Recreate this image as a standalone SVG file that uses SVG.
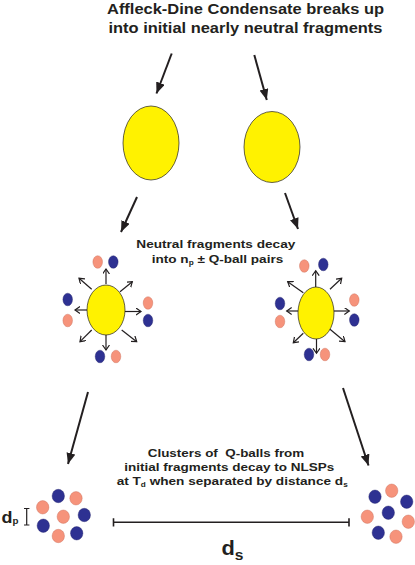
<svg xmlns="http://www.w3.org/2000/svg" width="415" height="565" viewBox="0 0 415 565">
<style>
text{font-family:"Liberation Sans",Arial,sans-serif;font-weight:bold;fill:#231f20;}
.big{fill:#fff200;stroke:#231f20;stroke-width:0.7;}
.n{fill:#2e3192;stroke:#23246a;stroke-width:0.4;}
.s{fill:#f6937b;stroke:#c86a55;stroke-width:0.4;}
.ba{stroke:#231f20;stroke-width:2;fill:none;marker-end:url(#head);}
.sa{stroke:#231f20;stroke-width:1.2;fill:none;marker-end:url(#chev);}
</style>
<defs>
<marker id="head" markerUnits="userSpaceOnUse" markerWidth="12" markerHeight="10" refX="11" refY="4.5" orient="auto">
<path d="M0,0 L11,4.5 L0,9 z" fill="#231f20"/>
</marker>
<marker id="chev" markerUnits="userSpaceOnUse" markerWidth="8" markerHeight="8" refX="5" refY="3.5" orient="auto">
<path d="M0,0 L5,3.5 L0,7" fill="none" stroke="#231f20" stroke-width="1.2"/>
</marker>
</defs>
<rect width="415" height="565" fill="#ffffff"/>

<g id="title">
<text x="245.5" y="14" font-size="15" text-anchor="middle" textLength="277" lengthAdjust="spacingAndGlyphs">Affleck-Dine Condensate breaks up</text>
<text x="245.5" y="33" font-size="15" text-anchor="middle" textLength="274" lengthAdjust="spacingAndGlyphs">into initial nearly neutral fragments</text>
</g>

<g id="fragment-left"><ellipse class="big" cx="151" cy="143" rx="28" ry="37"/></g>
<g id="fragment-right"><ellipse class="big" cx="272" cy="147" rx="28" ry="35.5"/></g>

<g id="decay-label">
<text x="215.8" y="248" font-size="11.6" text-anchor="middle" textLength="159" lengthAdjust="spacingAndGlyphs">Neutral fragments decay</text>
<text x="217.5" y="263" font-size="11.6" text-anchor="middle" textLength="131.5" lengthAdjust="spacingAndGlyphs">into n<tspan font-size="7" dy="2">p</tspan><tspan dy="-2"> ± Q-ball pairs</tspan></text>
</g>

<g id="decay-left">
<ellipse class="big" cx="106" cy="310" rx="19" ry="25"/>
<ellipse class="s" cx="97.7" cy="262" rx="4.8" ry="6.3"/>
<ellipse class="n" cx="113.3" cy="262" rx="4.8" ry="6.3"/>
<ellipse class="n" cx="67.7" cy="299.5" rx="4.8" ry="6.3"/>
<ellipse class="s" cx="67.7" cy="320.5" rx="4.8" ry="6.3"/>
<ellipse class="s" cx="148" cy="303" rx="4.8" ry="6.3"/>
<ellipse class="n" cx="148" cy="320.5" rx="4.8" ry="6.3"/>
<ellipse class="n" cx="100" cy="356.5" rx="4.8" ry="6.3"/>
<ellipse class="s" cx="116" cy="356.5" rx="4.8" ry="6.3"/>
</g>

<g id="decay-right">
<ellipse class="big" cx="316" cy="313" rx="18" ry="26"/>
<ellipse class="s" cx="304.3" cy="266" rx="4.8" ry="6.3"/>
<ellipse class="n" cx="323.3" cy="264.5" rx="4.8" ry="6.3"/>
<ellipse class="n" cx="280" cy="303.5" rx="4.8" ry="6.3"/>
<ellipse class="s" cx="280" cy="321.5" rx="4.8" ry="6.3"/>
<ellipse class="s" cx="354.3" cy="300" rx="4.8" ry="6.3"/>
<ellipse class="n" cx="354.3" cy="320" rx="4.8" ry="6.3"/>
<ellipse class="n" cx="309" cy="354.5" rx="4.8" ry="6.3"/>
<ellipse class="s" cx="325" cy="354.5" rx="4.8" ry="6.3"/>
</g>

<g id="connectors">
<line class="ba" x1="171.7" y1="53.5" x2="156.5" y2="93.5"/>
<line class="ba" x1="254.3" y1="55" x2="266.8" y2="100"/>
<line class="ba" x1="137" y1="197" x2="121" y2="232"/>
<line class="ba" x1="285" y1="193" x2="298" y2="229"/>
<line class="ba" x1="88" y1="392" x2="68" y2="464"/>
<line class="ba" x1="343" y1="388" x2="368.5" y2="465.5"/>
<line class="sa" x1="106" y1="284" x2="106" y2="269"/>
<line class="sa" x1="87" y1="310" x2="75" y2="310"/>
<line class="sa" x1="125" y1="311.5" x2="141" y2="311.5"/>
<line class="sa" x1="106" y1="335" x2="106" y2="350"/>
<line class="sa" x1="91.7" y1="289.3" x2="79" y2="278.3"/>
<line class="sa" x1="120" y1="291.7" x2="132.3" y2="281.7"/>
<line class="sa" x1="91.7" y1="330" x2="80" y2="341.7"/>
<line class="sa" x1="121.7" y1="330" x2="136.7" y2="341.7"/>
<line class="sa" x1="315.7" y1="287" x2="315.7" y2="270.7"/>
<line class="sa" x1="298" y1="311" x2="286.7" y2="311"/>
<line class="sa" x1="334" y1="311" x2="349.3" y2="311"/>
<line class="sa" x1="316.5" y1="339" x2="316.5" y2="353.3"/>
<line class="sa" x1="303.3" y1="292.7" x2="287.7" y2="281.7"/>
<line class="sa" x1="330" y1="289.3" x2="341.7" y2="278.3"/>
<line class="sa" x1="303.3" y1="333.3" x2="293.3" y2="342.7"/>
<line class="sa" x1="330" y1="329.3" x2="345" y2="341.7"/>
</g>

<g id="cluster-label">
<text x="226" y="457" font-size="11.7" text-anchor="middle" textLength="156.5" lengthAdjust="spacingAndGlyphs" xml:space="preserve">Clusters of  Q-balls from</text>
<text x="229.2" y="471" font-size="11.7" text-anchor="middle" textLength="210" lengthAdjust="spacingAndGlyphs">initial fragments decay to NLSPs</text>
<text x="232.2" y="485" font-size="11.7" text-anchor="middle" textLength="231" lengthAdjust="spacingAndGlyphs">at T<tspan font-size="7" dy="2">d</tspan><tspan dy="-2"> when separated by distance d</tspan><tspan font-size="7" dy="2">s</tspan></text>
</g>

<g id="cluster-left">
<ellipse class="n" cx="58.3" cy="496" rx="6.2" ry="6.7"/>
<ellipse class="s" cx="76" cy="498.3" rx="6.2" ry="6.7"/>
<ellipse class="s" cx="42.7" cy="507.3" rx="6.2" ry="6.7"/>
<ellipse class="s" cx="63.3" cy="516.7" rx="6.2" ry="6.7"/>
<ellipse class="n" cx="84.3" cy="515" rx="6.2" ry="6.7"/>
<ellipse class="n" cx="43.3" cy="525.7" rx="6.2" ry="6.7"/>
<ellipse class="s" cx="58.3" cy="536" rx="6.2" ry="6.7"/>
<ellipse class="n" cx="76.7" cy="533.3" rx="6.2" ry="6.7"/>
</g>

<g id="cluster-right">
<ellipse class="n" cx="375" cy="496.7" rx="6.2" ry="6.7"/>
<ellipse class="s" cx="391.7" cy="490.7" rx="6.2" ry="6.7"/>
<ellipse class="n" cx="406.7" cy="501.7" rx="6.2" ry="6.7"/>
<ellipse class="s" cx="367.3" cy="516.7" rx="6.2" ry="6.7"/>
<ellipse class="n" cx="388.3" cy="512.7" rx="6.2" ry="6.7"/>
<ellipse class="s" cx="408.3" cy="521.7" rx="6.2" ry="6.7"/>
<ellipse class="n" cx="378.3" cy="532.7" rx="6.2" ry="6.7"/>
<ellipse class="s" cx="396" cy="536.7" rx="6.2" ry="6.7"/>
</g>

<g id="dp-marker">
<path d="M26.7,508.5 V525 M24,508.5 H29.4 M24,525 H29.4" stroke="#231f20" stroke-width="1.2" fill="none"/>
<text x="1.5" y="523.3" font-size="16.5" textLength="17" lengthAdjust="spacingAndGlyphs">d<tspan font-size="9" dy="1">p</tspan></text>
</g>

<g id="ds-marker">
<path d="M113.5,522.3 H349 M113.5,518.3 V526.5 M349,518.3 V526.5" stroke="#231f20" stroke-width="1.6" fill="none"/>
<text x="221.5" y="555" font-size="21" textLength="22" lengthAdjust="spacingAndGlyphs">d<tspan font-size="15" dy="5">s</tspan></text>
</g>
</svg>
